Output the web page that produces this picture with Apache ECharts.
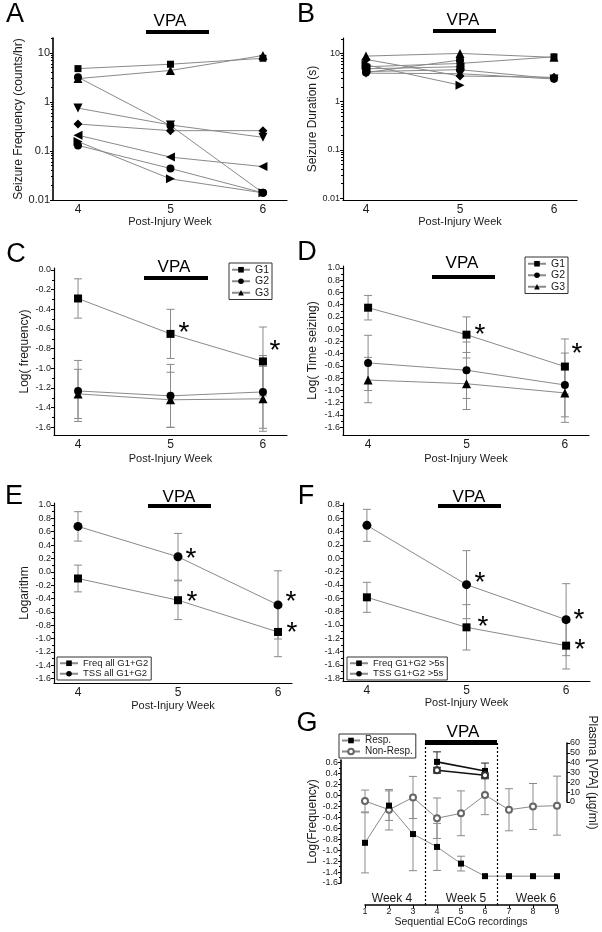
<!DOCTYPE html>
<html lang="en">
<head>
<meta charset="utf-8">
<title>VPA seizure panels</title>
<script src="https://cdn.jsdelivr.net/npm/echarts@6.0.0/dist/echarts.min.js"></script>
<style>
  html, body { margin: 0; background: #fff; }
  #container { width: 602px; height: 932px; }
</style>
</head>
<body>
<div id="container"></div>
<script>
// ---------- values ----------
const weeks = [4, 5, 6];
const weekTicks = [4, 5, 6];

// A: seizure frequency (counts/hr), one row per animal, weeks 4-6
const freqA = [
  [4.8, 5.9, 7.8],
  [3.0, 4.4, 8.9],
  [3.2, 0.33, 0.014],
  [0.75, 0.34, 0.19],
  [0.355, 0.26, 0.26],
  [0.21, 0.075, 0.048],
  [0.156, 0.027, 0.014],
  [0.13, 0.044, 0.014]
];
// B: seizure duration (s), same animals (null = nothing recorded)
const durB = [
  [5.3, 6.2, 8.5],
  [8.8, 10, 8.3],
  [4.2, 4.6, 3.0],
  [3.9, 3.8, 2.95],
  [7.5, 3.4, 3.2],
  [4.8, 5.3, null],
  [5.8, 2.2, null],
  [4.0, 7.3, null]
];
const animalSymbols = [
  ['rect', 7, 0], ['triangle', 9, 0], ['circle', 8, 0], ['triangle', 9, 180],
  ['diamond', 9, 0], ['triangle', 9, 90], ['triangle', 9, -90], ['circle', 8, 0]
];

// C: log(frequency) by group
const cG1 = [-0.29, -0.65, -0.93], cG1Err = [0.2, 0.25, 0.35];
const cG2 = [-1.23, -1.28, -1.24], cG2Err = [0.31, 0.32, 0.37];
const cG3 = [-1.26, -1.32, -1.31], cG3Err = [0.25, 0.28, 0.33];
// D: log(time seizing) by group
const dG1 = [0.35, -0.09, -0.61], dG1Err = [0.2, 0.29, 0.45];
const dG2 = [-0.55, -0.67, -0.91], dG2Err = [0.45, 0.46, 0.52];
const dG3 = [-0.83, -0.89, -1.04], dG3Err = [0.37, 0.42, 0.48];
// E: all G1+G2
const eFreq = [-0.1, -0.425, -0.9], eFreqErr = [0.2, 0.29, 0.37];
const eTss = [0.68, 0.225, -0.495], eTssErr = [0.22, 0.35, 0.51];
// F: G1+G2 > 5 s
const fFreq = [-0.585, -1.035, -1.31], fFreqErr = [0.225, 0.34, 0.35];
const fTss = [0.495, -0.395, -0.92], fTssErr = [0.24, 0.51, 0.54];
// G: sequential recordings
const recordings = [1, 2, 3, 4, 5, 6, 7, 8, 9];
const gResp = [-0.865, -0.185, -0.705, -0.94, -1.245, -1.475, -1.475, -1.475, -1.475];
const gRespErr = [0.55, 0.27, 0.67, 0.43, 0.135, null, null, null, null];
const gNon = [-0.1, -0.26, -0.035, -0.415, -0.325, 0.01, -0.26, -0.2, -0.185];
const gNonErr = [0.2, 0.37, 0.385, 0.37, 0.41, 0.36, 0.385, 0.42, 0.54];
const plasmaX = [4, 6];
const plasmaResp = [40.8, 31.6], plasmaRespErr = [10.2, 8];
const plasmaNon = [32.3, 27.2], plasmaNonErr = [3, 2.3];

// tick labels
const logTicks = [-2, -1, 0, 1];
const ticksC = [0, -0.2, -0.4, -0.6, -0.8, -1.0, -1.2, -1.4, -1.6];
const ticksD = [1.0, 0.8, 0.6, 0.4, 0.2, 0, -0.2, -0.4, -0.6, -0.8, -1.0, -1.2, -1.4, -1.6];
const ticksE = [1.0, 0.8, 0.6, 0.4, 0.2, 0, -0.2, -0.4, -0.6, -0.8, -1.0, -1.2, -1.4, -1.6];
const ticksF = [0.8, 0.6, 0.4, 0.2, 0, -0.2, -0.4, -0.6, -0.8, -1.0, -1.2, -1.4, -1.6, -1.8];
const ticksG = [0.6, 0.4, 0.2, 0, -0.2, -0.4, -0.6, -0.8, -1.0, -1.2, -1.4, -1.6];

// ---------- chart ----------
const FONT = '"Liberation Sans", Arial, sans-serif';
const GREY = '#8a8a8a';
const INK = '#1a1a1a';

const grids = [], xAxis = [], yAxis = [], series = [];

function addGrid(left, top, width, height) {
  grids.push({ left, top, width, height });
  return grids.length - 1;
}

function addWeekX(gi, min, max, nameGap) {
  xAxis.push({
    gridIndex: gi, type: 'value', min, max,
    axisLine: { onZero: false, lineStyle: { color: '#000', width: 1.2 } },
    axisTick: { show: false }, splitLine: { show: false },
    axisLabel: { customValues: weekTicks, color: INK, fontSize: 12, margin: 4, fontFamily: FONT },
    name: 'Post-Injury Week', nameLocation: 'middle', nameGap,
    nameTextStyle: { color: INK, fontSize: 11, fontFamily: FONT }
  });
  return xAxis.length - 1;
}

function addHiddenX(gi, min, max) {
  xAxis.push({ gridIndex: gi, type: 'value', min, max, show: false, axisLine: { onZero: false } });
  return xAxis.length - 1;
}

const midpoints = (t) => t.slice(1).map((v, i) => (v + t[i]) / 2);
function logMinors(max) {
  const out = [];
  for (let n = -2; n <= 1; n++) for (let k = 2; k <= 9; k++) {
    const v = n + Math.log10(k);
    if (v <= max) out.push(v);
  }
  return out;
}

function addY(gi, min, max, majors, minors, fmt, o) {
  const base = { gridIndex: gi, type: 'value', min, max, position: o.position || 'left', splitLine: { show: false } };
  yAxis.push(Object.assign({}, base, {
    axisLine: { show: true, onZero: false, lineStyle: { color: '#000', width: o.lineWidth || 1.2 } },
    axisTick: { show: true, length: 3, customValues: majors, lineStyle: { color: '#000' } },
    axisLabel: { customValues: majors, formatter: fmt, color: INK, fontSize: o.fontSize, margin: 3, fontFamily: FONT },
    name: o.name || '', nameLocation: 'middle', nameGap: o.nameGap || 0, nameRotate: o.nameRotate,
    nameTextStyle: { color: INK, fontSize: 12, fontFamily: FONT }
  }));
  const idx = yAxis.length - 1;
  if (minors) {
    yAxis.push(Object.assign({}, base, {
      axisLine: { show: false, onZero: false }, axisLabel: { show: false },
      axisTick: { show: true, length: 2, customValues: minors, lineStyle: { color: '#000' } }
    }));
  }
  return idx;
}

function addLine(name, xi, yi, xs, ys, symbol, size, rotate, o = {}) {
  series.push({
    name, type: 'line', xAxisIndex: xi, yAxisIndex: yi,
    data: xs.map((x, i) => [x, ys[i] == null ? '-' : ys[i]]),
    symbol, symbolSize: size, symbolRotate: rotate || 0,
    itemStyle: { color: o.color || '#000', borderWidth: o.borderWidth || 0 },
    lineStyle: { color: o.lineColor || GREY, width: o.lineWidth || 1 },
    z: 3, silent: true, animation: false
  });
}

function renderErr(params, api) {
  const x = api.value(0);
  const lo = api.coord([x, api.value(1)]);
  const hi = api.coord([x, api.value(2)]);
  const w = 4;
  const style = { stroke: api.visual('color'), lineWidth: 1 };
  return {
    type: 'group', children: [
      { type: 'line', shape: { x1: lo[0], y1: lo[1], x2: hi[0], y2: hi[1] }, style },
      { type: 'line', shape: { x1: lo[0] - w, y1: lo[1], x2: lo[0] + w, y2: lo[1] }, style },
      { type: 'line', shape: { x1: hi[0] - w, y1: hi[1], x2: hi[0] + w, y2: hi[1] }, style }
    ]
  };
}

function addErr(xi, yi, xs, means, errs, color) {
  const data = [];
  xs.forEach((x, i) => { if (errs[i]) data.push([x, means[i] - errs[i], means[i] + errs[i]]); });
  series.push({
    type: 'custom', xAxisIndex: xi, yAxisIndex: yi, data, encode: { x: 0, y: [1, 2] },
    renderItem: renderErr, itemStyle: { color: color || GREY }, z: 2, silent: true, animation: false
  });
}

const fmt1 = (v) => v.toFixed(1);
const fmtLog = (v) => String(+Math.pow(10, v).toPrecision(2));
const toLog = (row) => row.map((v) => (v == null ? null : Math.log10(v)));

// Panel A
const gA = addGrid(53, 38, 234, 162);
const xA = addWeekX(gA, 3.73, 6.26, 16);
const yA = addY(gA, -2, 1.306, logTicks, logMinors(1.306), fmtLog,
  { fontSize: 11, lineWidth: 1.6, name: 'Seizure Frequency (counts/hr)', nameGap: 22 });
freqA.forEach((row, i) => {
  const [s, size, rot] = animalSymbols[i];
  addLine('A' + i, xA, yA, weeks, toLog(row), s, size, rot);
});

// Panel B
const gB = addGrid(343, 38, 234, 162);
const xB = addWeekX(gB, 3.755, 6.245, 16);
const yB = addY(gB, -2.04, 1.32, logTicks, logMinors(1.32), fmtLog,
  { fontSize: 9, lineWidth: 1.2, name: 'Seizure Duration (s)', nameGap: 22 });
durB.forEach((row, i) => {
  const [s, size, rot] = animalSymbols[i];
  addLine('B' + i, xB, yB, weeks, toLog(row), s, size, rot);
});

// Panel C
const gC = addGrid(54, 268, 233, 167);
const xC = addWeekX(gC, 3.74, 6.26, 18);
const yC = addY(gC, -1.678, 0.02, ticksC, midpoints(ticksC), fmt1,
  { fontSize: 9, name: 'Log( frequency)', nameGap: 23 });
addErr(xC, yC, weeks, cG1, cG1Err);
addErr(xC, yC, weeks, cG2, cG2Err);
addErr(xC, yC, weeks, cG3, cG3Err);
addLine('G1', xC, yC, weeks, cG1, 'rect', 8);
addLine('G2', xC, yC, weeks, cG2, 'circle', 8);
addLine('G3', xC, yC, weeks, cG3, 'triangle', 9);

// Panel D
const gD = addGrid(343, 266, 246, 169);
const xD = addWeekX(gD, 3.745, 6.245, 18);
const yD = addY(gD, -1.726, 1.03, ticksD, midpoints(ticksD), fmt1,
  { fontSize: 9, name: 'Log( Time seizing)', nameGap: 24 });
addErr(xD, yD, weeks, dG1, dG1Err);
addErr(xD, yD, weeks, dG2, dG2Err);
addErr(xD, yD, weeks, dG3, dG3Err);
addLine('G1', xD, yD, weeks, dG1, 'rect', 8);
addLine('G2', xD, yD, weeks, dG2, 'circle', 8);
addLine('G3', xD, yD, weeks, dG3, 'triangle', 9);

// Panel E
const gE = addGrid(54, 503, 238, 180);
const xE = addWeekX(gE, 3.76, 6.14, 17);
const yE = addY(gE, -1.664, 1.03, ticksE, midpoints(ticksE), fmt1,
  { fontSize: 9, name: 'Logarithm', nameGap: 23 });
addErr(xE, yE, weeks, eFreq, eFreqErr);
addErr(xE, yE, weeks, eTss, eTssErr);
addLine('Freq all G1+G2', xE, yE, weeks, eFreq, 'rect', 8);
addLine('TSS all G1+G2', xE, yE, weeks, eTss, 'circle', 9);

// Panel F
const gF = addGrid(343, 503, 247, 178);
const xF = addWeekX(gF, 3.76, 6.24, 16);
const yF = addY(gF, -1.84, 0.83, ticksF, midpoints(ticksF), fmt1, { fontSize: 9 });
addErr(xF, yF, weeks, fFreq, fFreqErr);
addErr(xF, yF, weeks, fTss, fTssErr);
addLine('Freq G1+G2 >5s', xF, yF, weeks, fFreq, 'rect', 8);
addLine('TSS G1+G2 >5s', xF, yF, weeks, fTss, 'circle', 9);

// Panel G: log frequency (left axis)
const gG = addGrid(341, 760, 226, 123);
const xG = addHiddenX(gG, 0, 9.4167);
const yG = addY(gG, -1.6, 0.65, ticksG, midpoints(ticksG), fmt1,
  { fontSize: 9, lineWidth: 1.6, name: 'Log(Frequency)', nameGap: 20 });
addErr(xG, yG, recordings, gNon, gNonErr);
addErr(xG, yG, recordings, gResp, gRespErr);
addLine('Non-Resp.', xG, yG, recordings, gNon, 'emptyCircle', 6, 0, { color: '#666', borderWidth: 1 });
addLine('Resp.', xG, yG, recordings, gResp, 'rect', 6);

// Panel G: plasma VPA (right axis)
const gP = addGrid(341, 743, 226, 59);
const xP = addHiddenX(gP, 0, 9.4167);
yAxis.push({
  gridIndex: gP, type: 'value', min: 0, max: 60, interval: 10, position: 'right',
  axisLine: { show: true, onZero: false, lineStyle: { color: '#000', width: 1.5 } },
  axisTick: { show: true, length: 3, lineStyle: { color: '#000' } },
  axisLabel: { color: INK, fontSize: 9, margin: 3, fontFamily: FONT },
  splitLine: { show: false },
  name: 'Plasma [VPA] (µg/ml)', nameLocation: 'middle', nameGap: 19, nameRotate: -90,
  nameTextStyle: { color: INK, fontSize: 12, fontFamily: FONT }
});
const yP = yAxis.length - 1;
addErr(xP, yP, plasmaX, plasmaResp, plasmaRespErr, '#222');
addErr(xP, yP, plasmaX, plasmaNon, plasmaNonErr, '#222');
addLine('Resp. plasma', xP, yP, plasmaX, plasmaResp, 'rect', 6, 0, { lineColor: '#111', lineWidth: 1.6 });
addLine('Non-Resp. plasma', xP, yP, plasmaX, plasmaNon, 'emptyCircle', 6, 0,
  { color: '#333', borderWidth: 1, lineColor: '#111', lineWidth: 1.6 });

// Panel G: recording axis, week separators and treatment bar
const gS = addGrid(365, 742, 192, 163);
xAxis.push({
  gridIndex: gS, type: 'value', min: 1, max: 9, interval: 1,
  axisLine: { onZero: false, lineStyle: { color: '#000', width: 1.6 } },
  axisTick: { show: true, length: 3, lineStyle: { color: '#000' } },
  axisLabel: { color: INK, fontSize: 9, margin: 2, fontFamily: FONT },
  splitLine: { show: false },
  name: 'Sequential ECoG recordings', nameLocation: 'middle', nameGap: 11,
  nameTextStyle: { color: INK, fontSize: 10.5, fontFamily: FONT }
});
const xS = xAxis.length - 1;
yAxis.push({ gridIndex: gS, type: 'value', min: 0, max: 1, show: false });
const yS = yAxis.length - 1;
const weekBreaks = [3.5, 6.5];
series.push({
  type: 'line', xAxisIndex: xS, yAxisIndex: yS, data: [], silent: true, animation: false,
  markLine: {
    silent: true, symbol: 'none', label: { show: false }, animation: false,
    lineStyle: { color: '#000', type: [2, 2], width: 1.2 },
    data: weekBreaks.map((x) => ({ xAxis: x }))
  }
});
series.push({
  type: 'line', xAxisIndex: xS, yAxisIndex: yS, data: [], silent: true, animation: false,
  markLine: {
    silent: true, symbol: 'none', label: { show: false }, animation: false,
    lineStyle: { color: '#000', type: 'solid', width: 5 },
    data: [[{ coord: [weekBreaks[0], 1] }, { coord: [weekBreaks[1], 1] }]]
  }
});

// ---------- legends ----------
function legendAt(names, left, top, fs) {
  return {
    data: names, left, top, orient: 'vertical', itemGap: 0, itemWidth: 18, itemHeight: 7,
    selectedMode: false, padding: [1, 3, 1, 2], borderColor: '#333', borderWidth: 1,
    backgroundColor: '#fff', z: 10,
    textStyle: { fontSize: fs, fontFamily: FONT, color: INK, lineHeight: fs + 1 }
  };
}
const legends = [
  legendAt(['G1', 'G2', 'G3'], 229, 263, 10.5),
  legendAt(['G1', 'G2', 'G3'], 525, 257, 10.5),
  legendAt(['Freq all G1+G2', 'TSS all G1+G2'], 57, 657, 9.5),
  legendAt(['Freq G1+G2 >5s', 'TSS G1+G2 >5s'], 347, 657, 9.5),
  legendAt(['Resp.', 'Non-Resp.'], 339, 734, 10)
];

// ---------- annotations ----------
const letters = [['A', 15, 15], ['B', 306, 15], ['C', 16, 255], ['D', 307, 253], ['E', 14, 497], ['F', 306, 497], ['G', 307, 724]];
// text centre x, text y, bar left, bar right, bar y
const vpaMarks = [
  [170, 21, 146, 209, 32], [463, 20, 433, 496, 31], [174, 267, 144, 208, 278],
  [462, 263, 432, 495, 277], [179, 497, 148, 211, 506], [469, 497, 438, 501, 506]
];
const stars = [[184, 327], [275, 345], [480, 329], [577, 348], [191, 553], [192, 596], [291, 596], [292, 627],
  [480, 577], [483, 621], [579, 614], [580, 644]];
const weekLabels = [['Week 4', 392], ['Week 5', 466], ['Week 6', 536]];

const graphic = [];
letters.forEach(([t, x, y]) => graphic.push({
  type: 'text', x, y, style: { text: t, font: '27px ' + FONT, fill: '#000', align: 'center', verticalAlign: 'middle' }
}));
vpaMarks.forEach(([tx, ty, b0, b1, by]) => {
  graphic.push({ type: 'text', x: tx, y: ty, style: { text: 'VPA', font: '17px ' + FONT, fill: '#000', align: 'center', verticalAlign: 'middle' } });
  graphic.push({ type: 'rect', shape: { x: b0, y: by - 2, width: b1 - b0, height: 4 }, style: { fill: '#000' } });
});
graphic.push({ type: 'text', x: 463, y: 732, style: { text: 'VPA', font: '17px ' + FONT, fill: '#000', align: 'center', verticalAlign: 'middle' } });
stars.forEach(([x, y]) => graphic.push({
  type: 'text', x, y: y + 6, style: { text: '*', font: '28px ' + FONT, fill: '#000', align: 'center', verticalAlign: 'middle' }
}));
weekLabels.forEach(([t, x]) => graphic.push({
  type: 'text', x, y: 899, style: { text: t, font: '12px ' + FONT, fill: INK, align: 'center', verticalAlign: 'middle' }
}));

const chart = echarts.init(document.getElementById('container'), null, { renderer: 'canvas' });
chart.setOption({
  animation: false,
  backgroundColor: '#fff',
  textStyle: { fontFamily: FONT },
  grid: grids,
  xAxis,
  yAxis,
  legend: legends,
  series,
  graphic
});
window.addEventListener('resize', chart.resize);
</script>
</body>
</html>
